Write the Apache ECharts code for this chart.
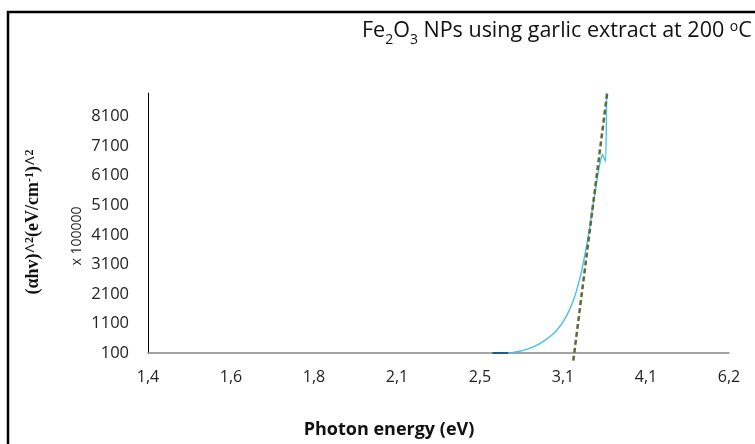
<!DOCTYPE html>
<html>
	<head>
		<meta charset="UTF-8">
		<title>Fe2O3 NPs - Tauc plot</title>
		<script type="text/javascript" src="https://cdn.jsdelivr.net/npm/echarts@6/dist/echarts.min.js"></script>
		<style>
			html, body { margin: 0; padding: 0; background: #fff; }
			#chart1 { width: 755px; height: 444px; }
		</style>
	</head>
	<body>
		<div id="chart1"></div>
		<script type="text/javascript">
			// photon energy labels of the category axis (one every 100 nm, 900 -> 200 nm)
			var energyLabels = ['1,4', '1,6', '1,8', '2,1', '2,5', '3,1', '4,1', '6,2'];
			var yTickLabels = [100, 1100, 2100, 3100, 4100, 5100, 6100, 7100, 8100];

			// measured curve: wavelength (nm) and (ahv)^2 (x 100000)
			var curveLambda = [466, 460, 452, 444, 436, 428, 420, 412, 406, 400, 395, 390, 386, 382, 378, 374.5, 371.5, 368, 365, 361.5, 358.5, 356, 354, 352.4, 350.5, 348.6, 347.5];
			var curveValue  = [100, 118, 160, 225, 310, 420, 560, 740, 920, 1150, 1400, 1700, 2000, 2380, 2820, 3300, 3750, 4300, 4900, 5500, 6050, 6450, 6700, 6820, 6700, 6580, 8900];
			// dark start of the trace, lying on the axis
			var startLambda = [485, 466];
			var startValue  = [100, 100];
			// tangent used for the band gap
			var fitLambda = [387.6, 346.6];
			var fitValue  = [-160, 8940];

			function pairs(xs, ys){
				return xs.map(function(x, i){ return [x, ys[i]]; });
			}

			var myChart = echarts.init(document.getElementById('chart1'));
			var option = {
				animation: false,
				backgroundColor: '#fff',
				grid: { left: 148, right: 26, top: 93, bottom: 91 },
				xAxis: [{
					type: 'category',
					data: energyLabels,
					boundaryGap: false,
					axisLine: { lineStyle: { color: '#868686', width: 1.5 } },
					axisTick: { show: false },
					axisLabel: { interval: 0, margin: 16, color: '#222', fontSize: 16, fontFamily: 'Open Sans' },
					splitLine: { show: false }
				}, {
					type: 'value',
					min: 200,
					max: 900,
					inverse: true,
					show: false
				}],
				yAxis: {
					type: 'value',
					min: 100,
					max: 8900,
					interval: 100,
					axisLine: { show: true, lineStyle: { color: '#000', width: 1 } },
					axisTick: { show: false },
					splitLine: { show: false },
					axisLabel: {
						margin: 19,
						color: '#222',
						fontSize: 16.5,
						fontFamily: 'Open Sans',
						formatter: function(v){
							return yTickLabels.indexOf(Math.round(v)) >= 0 ? String(Math.round(v)) : '';
						}
					}
				},
				series: [{
					type: 'line',
					xAxisIndex: 1,
					data: pairs(curveLambda, curveValue),
					smooth: 0.25,
					showSymbol: false,
					lineStyle: { color: '#45c0f0', width: 1.4 }
				}, {
					type: 'line',
					xAxisIndex: 1,
					data: pairs(startLambda, startValue),
					showSymbol: false,
					lineStyle: { color: '#1b5e8c', width: 2 }
				}, {
					type: 'line',
					xAxisIndex: 1,
					data: pairs(fitLambda, fitValue),
					clip: false,
					showSymbol: false,
					lineStyle: { color: '#5b6a36', width: 2.5, type: [5, 3] }
				}],
				graphic: [{
					type: 'rect',
					shape: { x: 8, y: 12, width: 800, height: 500 },
					style: { fill: 'none', stroke: '#000', lineWidth: 2.5 }
				}, {
					type: 'text',
					x: 362,
					y: 31,
					style: {
						text: 'Fe{sub|2}O{sub|3} NPs using garlic extract at 200 {sup|o}C',
						fontSize: 21.5,
						fontFamily: 'Open Sans',
						fill: '#111',
						align: 'left',
						verticalAlign: 'middle',
						rich: {
							sub: { fontSize: 14, fontFamily: 'Open Sans', fill: '#111', verticalAlign: 'bottom', lineHeight: 14, padding: [0, 0, -5, 0] },
							sup: { fontSize: 14, fontFamily: 'Open Sans', fill: '#111', verticalAlign: 'top', lineHeight: 14 }
						}
					}
				}, {
					type: 'text',
					x: 33,
					y: 222,
					rotation: Math.PI / 2,
					style: {
						text: '(αhv)^{sup|2}(eV/cm{sup|-1})^{sup|2}',
						fontSize: 18,
						fontWeight: 'bold',
						fontFamily: 'Liberation Serif',
						fill: '#111',
						align: 'center',
						verticalAlign: 'middle',
						rich: {
							sup: { fontSize: 12, fontWeight: 'bold', fontFamily: 'Liberation Serif', fill: '#111', verticalAlign: 'top', lineHeight: 12 }
						}
					}
				}, {
					type: 'text',
					x: 77,
					y: 236,
					rotation: Math.PI / 2,
					style: {
						text: 'x 100000',
						fontSize: 14,
						fontFamily: 'Open Sans',
						fill: '#222',
						align: 'center',
						verticalAlign: 'middle'
					}
				}, {
					type: 'text',
					x: 389,
					y: 430,
					style: {
						text: 'Photon energy (eV)',
						fontSize: 18,
						fontWeight: 'bold',
						fontFamily: 'Open Sans',
						fill: '#111',
						align: 'center',
						verticalAlign: 'middle'
					}
				}]
			};
			myChart.setOption(option);
		</script>
	</body>
</html>
